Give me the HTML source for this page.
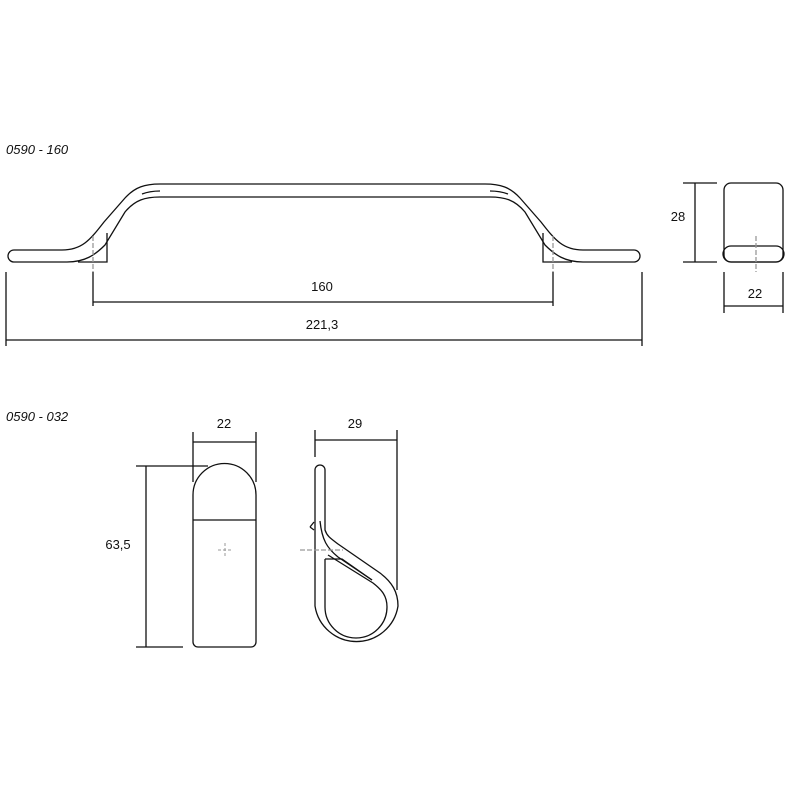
<!DOCTYPE html>
<html><head><style>body{margin:0;background:#fff}svg{display:block}text{font-family:"Liberation Sans",sans-serif;font-size:13px;fill:#111}</style></head><body>
<svg width="800" height="800" viewBox="0 0 800 800" fill="none" stroke="#111" stroke-width="1.3">
<text x="6" y="154" font-style="italic" stroke="none">0590 - 160</text>
<text x="6" y="421" font-style="italic" stroke="none">0590 - 032</text>
<!-- handle -->
<path d="M14 250 L62 250 C82 250 90 240 104 222 L125 198 C135 187 145 184 160 184 L485 184 C500 184 510 187 520 198 L541 222 C555 240 563 250 583 250 L634 250 A6 6 0 0 1 634 262 L583 262 C565 262 555 255 545 245 L525 212 C515 200 505 197 490 197 L160 197 C145 197 135 200 125 212 L105 245 C95 255 85 262 67 262 L14 262 A6 6 0 0 1 14 250 Z"/>
<path d="M142 194 Q150 191 160 191 M490 191 Q500 191 508 194"/>
<path d="M107 233 L107 262 L78 262 M543 233 L543 262 L572 262"/>
<path d="M93 236 V272 M553 236 V272" stroke="#999" stroke-dasharray="5 2"/>
<path d="M93 272 V306 M553 272 V306 M93 302 H553 M6 272 V346 M642 272 V346 M6 340 H642"/>
<text x="322" y="291" text-anchor="middle" stroke="none">160</text>
<text x="322" y="329" text-anchor="middle" stroke="none">221,3</text>
<!-- side view -->
<rect x="724" y="183" width="59" height="79" rx="7"/>
<path d="M731 246 H776 A8 8 0 0 1 776 262 H731 A8 8 0 0 1 731 246 Z"/>
<path d="M756 236 V272" stroke="#999" stroke-dasharray="5 2"/>
<path d="M683 183 H717 M683 262 H717 M695 183 V262 M724 272 V313 M783 272 V313 M724 306 H783"/>
<text x="678" y="221" text-anchor="middle" stroke="none">28</text>
<text x="755" y="298" text-anchor="middle" stroke="none">22</text>
<!-- knob front -->
<path d="M193 495 A31.5 31.5 0 0 1 256 495 L256 642 A5 5 0 0 1 251 647 L198 647 A5 5 0 0 1 193 642 Z M193 520 H256"/>
<path d="M218 550 H232 M225 543 V557" stroke="#999" stroke-dasharray="3 2" stroke-width="1"/>
<path d="M193 432 V482 M256 432 V482 M193 442 H256 M136 466 H208 M136 647 H183 M146 466 V647"/>
<text x="224" y="428" text-anchor="middle" stroke="none">22</text>
<text x="118" y="549" text-anchor="middle" stroke="none">63,5</text>
<!-- knob side -->
<path d="M315 470 A5 5 0 0 1 325 470 L325 530 C327 536 330 538 338 544 L380 573 C392 582 398 592 398 606 A42 42 0 0 1 315 606 Z"/>
<path d="M325 559 L325 607 A31 31 0 0 0 387 607 C387 596 382 590 373 583 L328 555 M320 521 C322 540 327 548 338 557 L372 580"/>
<path d="M325 559 H342 L372 580 M310 527 L314 522 M310 527 L314 530"/>
<path d="M300 550 H343" stroke="#999" stroke-dasharray="5 2"/>
<path d="M315 430 V457 M397 430 V590 M315 440 H397"/>
<text x="355" y="428" text-anchor="middle" stroke="none">29</text>
</svg>
</body></html>
